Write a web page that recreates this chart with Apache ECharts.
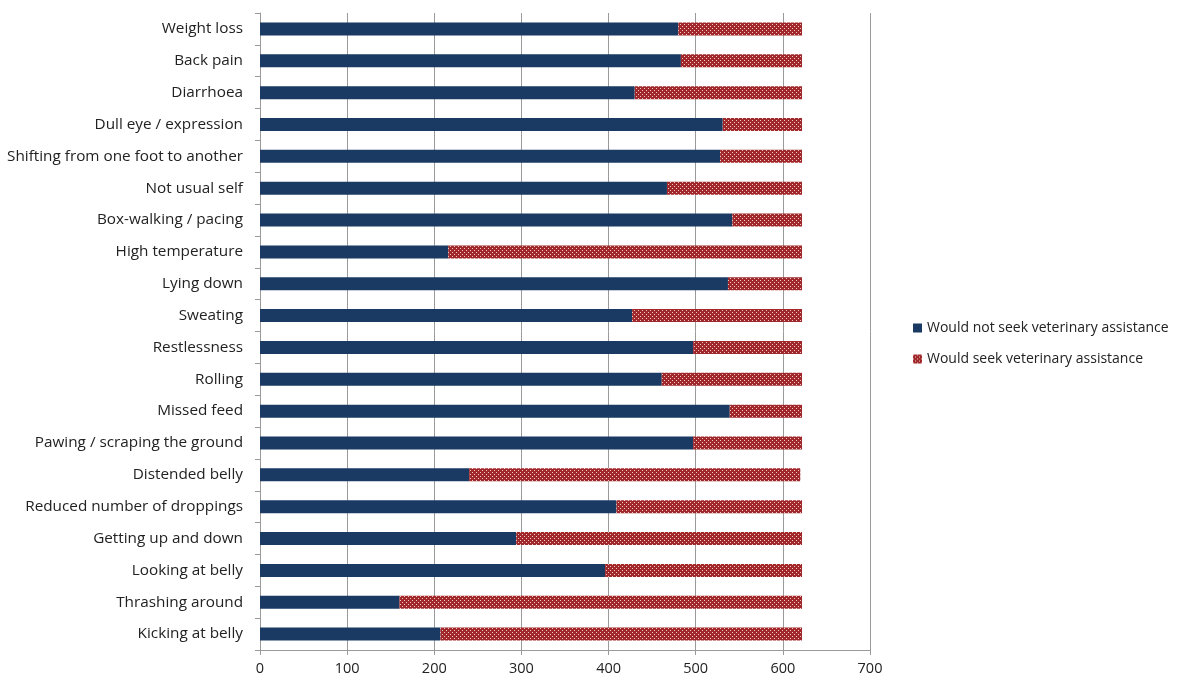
<!DOCTYPE html>
<html>
<head>
<meta charset="utf-8">
<script src="https://cdn.jsdelivr.net/npm/echarts@6/dist/echarts.min.js"></script>
<style>html,body{margin:0;padding:0;background:#fff}#c{width:1200px;height:689px}</style>
</head>
<body>
<div id="c"></div>
<script>
const categories = ["Weight loss","Back pain","Diarrhoea","Dull eye / expression","Shifting from one foot to another","Not usual self","Box-walking / pacing","High temperature","Lying down","Sweating","Restlessness","Rolling","Missed feed","Pawing / scraping the ground","Distended belly","Reduced number of droppings","Getting up and down","Looking at belly","Thrashing around","Kicking at belly"];
const wouldNot = [480,483,430,531,528,467,542,216,537,427,497,461,539,497,240,409,294,396,160,207];
const would    = [142,139,192,91,94,155,80,406,85,195,125,161,83,125,380,213,328,226,462,415];
const xTicks = [0,100,200,300,400,500,600,700];

const pc = document.createElement('canvas');
pc.width = 4; pc.height = 4;
const g = pc.getContext('2d');
g.fillStyle = '#a0282a'; g.fillRect(0,0,4,4);
g.fillStyle = '#f0c8c8'; g.fillRect(0,0,1,1); g.fillRect(2,2,1,1);

const chart = echarts.init(document.getElementById('c'), null, {renderer:'canvas'});
const font = '"Open Sans", "Noto Sans", sans-serif';
chart.setOption({
  animation:false,
  textStyle:{fontFamily:font},
  grid:{left:260, top:13, width:610, height:637, containLabel:false},
  legend:{
    orient:'vertical', left:908, top:316, itemGap:17, itemWidth:9, itemHeight:9,
    icon:'rect',
    textStyle:{fontSize:14, color:'#222', fontFamily:font},
    data:['Would not seek veterinary assistance','Would seek veterinary assistance']
  },
  xAxis:{
    type:'value', min:xTicks[0], max:xTicks[xTicks.length-1], interval:100,
    axisLine:{show:true, lineStyle:{color:'#9a9a9a'}},
    axisTick:{show:true, length:5, lineStyle:{color:'#9a9a9a'}},
    axisLabel:{fontSize:14.5, color:'#222', margin:11},
    splitLine:{show:true, lineStyle:{color:'#9a9a9a', width:1}}
  },
  yAxis:{
    type:'category', data:categories, inverse:true,
    axisLine:{show:true, lineStyle:{color:'#9a9a9a'}},
    axisTick:{show:true, length:5, alignWithLabel:false, lineStyle:{color:'#9a9a9a'}},
    axisLabel:{fontSize:15.3, color:'#222', margin:17}
  },
  series:[
    {name:'Would not seek veterinary assistance', type:'bar', stack:'t', data:wouldNot, barWidth:13,
     itemStyle:{color:'#1a3a63'}},
    {name:'Would seek veterinary assistance', type:'bar', stack:'t', data:would, barWidth:13,
     itemStyle:{color:{image:pc, repeat:'repeat'}}}
  ]
});
</script>
</body>
</html>
